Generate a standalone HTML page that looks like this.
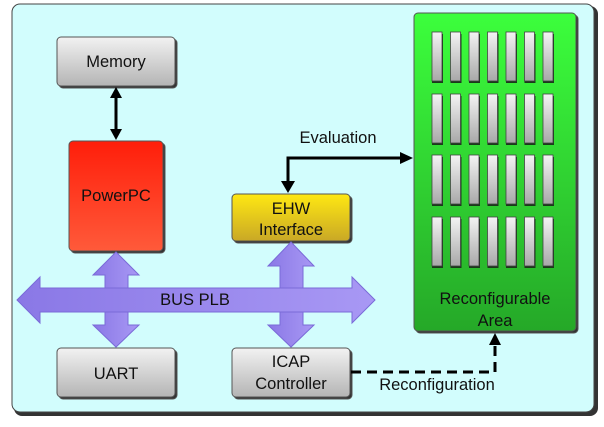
<!DOCTYPE html>
<html><head><style>
html,body{margin:0;padding:0;background:#fff;width:604px;height:427px;overflow:hidden}
text{font-family:"Liberation Sans",sans-serif;fill:#111}
</style></head><body>
<svg width="604" height="427" viewBox="0 0 604 427" xmlns="http://www.w3.org/2000/svg">
<defs>
<linearGradient id="g" x1="0" y1="0" x2="0" y2="1"><stop offset="0" stop-color="#f2f2f2"/><stop offset="1" stop-color="#b4b4b4"/></linearGradient>
<linearGradient id="r" x1="0" y1="0" x2="0" y2="1"><stop offset="0" stop-color="#ff1e0a"/><stop offset="1" stop-color="#ff5a3a"/></linearGradient>
<linearGradient id="y" x1="0" y1="0" x2="0" y2="1"><stop offset="0" stop-color="#ffe812"/><stop offset="1" stop-color="#c9a826"/></linearGradient>
<linearGradient id="gr" x1="0" y1="0" x2="0" y2="1"><stop offset="0" stop-color="#3cff3c"/><stop offset="1" stop-color="#25a828"/></linearGradient>
<linearGradient id="s" x1="0" y1="0" x2="0" y2="1"><stop offset="0" stop-color="#f4f4f4"/><stop offset="1" stop-color="#a8a8a8"/></linearGradient>
<linearGradient id="p" x1="0" y1="0" x2="1" y2="0"><stop offset="0" stop-color="#8a78e6"/><stop offset="1" stop-color="#a898f4"/></linearGradient>
</defs>
<rect x="14" y="6" width="584" height="410" rx="8" fill="#333"/>
<rect x="12" y="4" width="582" height="408" rx="8" fill="#d2fdfd" stroke="#444" stroke-width="1"/>
<g stroke="#555" stroke-width="1">
<rect x="59" y="39" width="118" height="49" rx="4" fill="#333"/>
<rect x="57" y="37" width="118" height="49" rx="4" fill="url(#g)"/>
<rect x="71" y="143" width="94" height="110" rx="4" fill="#333"/>
<rect x="69" y="141" width="94" height="110" rx="4" fill="url(#r)"/>
<rect x="234" y="196" width="118" height="47" rx="4" fill="#333"/>
<rect x="232" y="194" width="118" height="47" rx="4" fill="url(#y)"/>
<rect x="59" y="350" width="118" height="49" rx="4" fill="#333"/>
<rect x="57" y="348" width="118" height="49" rx="4" fill="url(#g)"/>
<rect x="234" y="350" width="118" height="49" rx="4" fill="#333"/>
<rect x="232" y="348" width="118" height="49" rx="4" fill="url(#g)"/>
<rect x="416" y="15" width="162" height="318" rx="4" fill="#333"/>
<rect x="414" y="13" width="162" height="318" rx="4" fill="url(#gr)"/>
</g>
<g stroke="#444" stroke-width="0.8">
<g id="row">
<g fill="#1a3a1a" stroke="none"><rect x="432" y="34" width="11" height="49"/><rect x="450.5" y="34" width="11" height="49"/><rect x="469" y="34" width="11" height="49"/><rect x="487.5" y="34" width="11" height="49"/><rect x="506" y="34" width="11" height="49"/><rect x="524.5" y="34" width="11" height="49"/><rect x="543" y="34" width="11" height="49"/></g>
<rect x="432" y="32" width="10" height="49" fill="url(#s)"/><rect x="450.5" y="32" width="10" height="49" fill="url(#s)"/><rect x="469" y="32" width="10" height="49" fill="url(#s)"/><rect x="487.5" y="32" width="10" height="49" fill="url(#s)"/><rect x="506" y="32" width="10" height="49" fill="url(#s)"/><rect x="524.5" y="32" width="10" height="49" fill="url(#s)"/><rect x="543" y="32" width="10" height="49" fill="url(#s)"/>
</g>
<use href="#row" y="62"/><use href="#row" y="123"/><use href="#row" y="185"/>
</g>
<g fill="url(#p)" stroke="#7a6ad8" stroke-width="1">
<polygon points="116,252 139,275 128,275 128,325 139,325 116,347 93,325 105,325 105,275 93,275"/>
<polygon points="291,242 314,266 303,266 303,325 314,325 291,347 268,325 280,325 280,266 268,266"/>
<polygon points="17,300 40,277 40,288 352,288 352,277 375,300 352,323 352,312 40,312 40,323"/>
</g>
<g stroke="#000" stroke-width="3" fill="none">
<line x1="116" y1="97" x2="116" y2="131"/>
<polyline points="288,184 288,158 402,158"/>
<polyline points="351,372 495,372 495,343" stroke-dasharray="10,6"/>
</g>
<g fill="#000">
<polygon points="116,87 110,98 122,98"/><polygon points="116,140 110,129 122,129"/>
<polygon points="288,193 281,181 295,181"/><polygon points="413,158 400,152 400,164"/>
<polygon points="495,333 489,345 501,345"/>
</g>
<g font-size="16.5" text-anchor="middle">
<text x="116" y="67">Memory</text>
<text x="116" y="201">PowerPC</text>
<text x="291" y="214">EHW</text><text x="291" y="235">Interface</text>
<text x="116" y="379">UART</text>
<text x="291" y="367">ICAP</text><text x="291" y="389">Controller</text>
<text x="195" y="305">BUS PLB</text>
<text x="338" y="143">Evaluation</text>
<text x="437" y="390">Reconfiguration</text>
<text x="495" y="304">Reconfigurable</text><text x="495" y="326">Area</text>
</g>
</svg>
</body></html>
